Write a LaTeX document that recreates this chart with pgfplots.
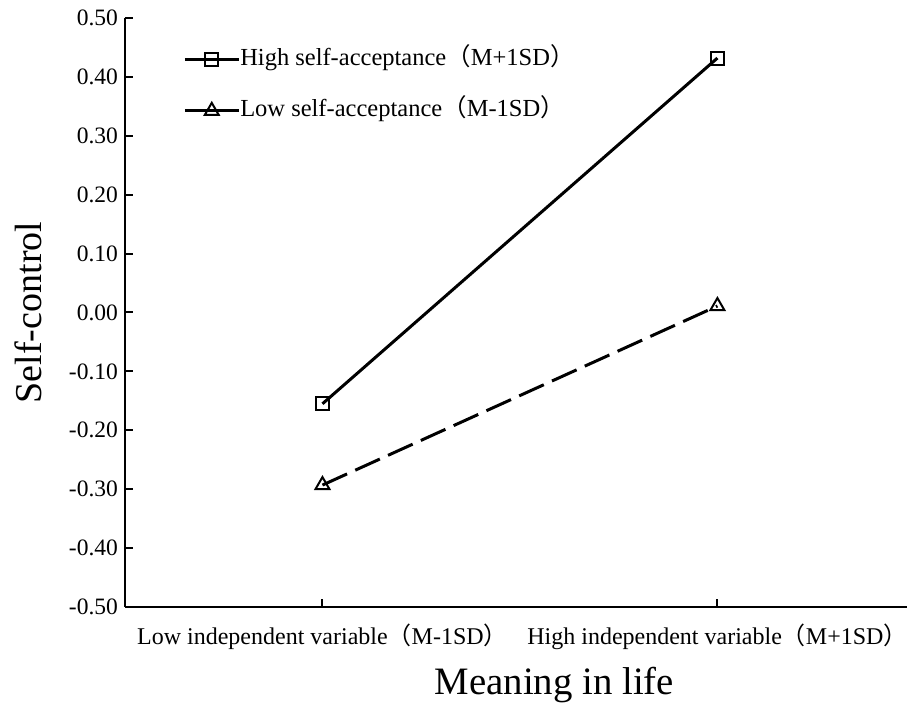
\documentclass[border=0pt]{standalone}
\usepackage{fontspec}
\setmainfont{Liberation Serif}
\newfontfamily\cjk{Noto Sans CJK SC}
\usepackage{pgfplots}
\pgfplotsset{compat=1.18}
\newcommand{\lp}{{\cjk （}}
\newcommand{\rp}{{\cjk ）}}

\begin{document}
\begin{tikzpicture}
\begin{axis}[
    scale only axis, width=391pt, height=294.5pt,
    xmin=0.5, xmax=2.48, ymin=-0.5, ymax=0.5,
    axis x line*=bottom, axis y line*=left,
    every non boxed x axis/.append style={xtick align=inside},
    every non boxed y axis/.append style={ytick align=outside},
    axis line style={-, line width=1pt},
    major tick length=4pt,
    tick style={line width=1pt, black},
    xtick={1,2},
    xticklabels={Low independent variable\lp M-1SD\rp, High independent variable\lp M+1SD\rp},
    xticklabel style={font=\fontsize{12}{13}\selectfont, yshift=-5pt},
    ytick={-0.5,-0.4,-0.3,-0.2,-0.1,0,0.1,0.2,0.3,0.4,0.5},
    yticklabel style={font=\fontsize{11.75}{13}\selectfont,
        /pgf/number format/.cd, fixed, fixed zerofill, precision=2, assume math mode=true},
    every axis x label/.style={at={(axis description cs:0.549,-0.1494)}, anchor=base,
        font=\fontsize{19.4}{22}\selectfont},
    every axis y label/.style={at={(axis description cs:-0.124,0.5)}, rotate=90, anchor=center,
        font=\fontsize{19}{22}\selectfont},
    xlabel={Meaning in life},
    ylabel={Self-control},
    legend image code/.code={
        \draw[mark repeat=2, mark phase=2, #1, solid] plot coordinates {(0pt,0pt) (13.5pt,0pt) (27pt,0pt)};
    },
    legend cell align=left,
    legend style={draw=none, fill=none, at={(axis description cs:0.074,0.95)}, anchor=north west,
        font=\fontsize{12.25}{14}\selectfont, inner sep=0pt, row sep=13.5pt,
        nodes={inner xsep=0pt, inner ysep=0pt, text height=9pt, text depth=3pt}},
]
\addplot[black, line width=1.5pt, mark=square, mark size=3.25pt, mark options={solid, line width=1pt}]
    coordinates {(1,-0.155) (2,0.432)};
\addlegendentry{High self-acceptance\lp M+1SD\rp}
\addplot[black, line width=1.5pt, dash pattern=on 13.5pt off 4.5pt, mark=triangle, mark size=4pt,
    mark options={solid, line width=1pt}]
    coordinates {(1,-0.293) (2,0.011)};
\addlegendentry{Low self-acceptance\lp M-1SD\rp}
\coordinate (bl) at (rel axis cs:0,0);
\coordinate (tr) at (rel axis cs:1,1);
\end{axis}
\pgfresetboundingbox
\path[use as bounding box] ([shift={(-62.5pt,-49pt)}]bl) rectangle ([shift={(0pt,9pt)}]tr);
\end{tikzpicture}
\end{document}
